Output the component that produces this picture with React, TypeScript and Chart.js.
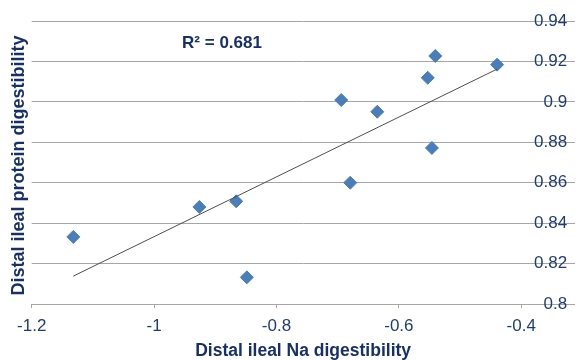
import React, { useEffect, useRef } from "react";
import { Chart, registerables } from "chart.js";

Chart.register(...registerables);

// ---- Data ----
const naDigestibility = [-0.5405, -0.4395, -0.5528, -0.6942, -0.6353, -0.546, -0.6795, -0.8658, -0.926, -1.132, -0.8484];
const proteinDigestibility = [0.9227, 0.9184, 0.9119, 0.9009, 0.8951, 0.8772, 0.86, 0.8508, 0.848, 0.8332, 0.8132];
const trendX = [-1.132, -0.4395];
const trendY = [0.8138, 0.9162];
const xTicks = [-1.2, -1, -0.8, -0.6, -0.4];
const yTicks = [0.8, 0.82, 0.84, 0.86, 0.88, 0.9, 0.92, 0.94];
const xMin = -1.2;
const xMax = -0.313;
const yMin = 0.8;
const yMax = 0.94;
const xTitle = "Distal ileal Na digestibility";
const yTitle = "Distal ileal protein digestibility";
const rSquaredLabel = "R² = 0.681";
const rSquaredAt = { x: -0.889, y: 0.9288 };

const FONT = '"Liberation Sans", Arial, sans-serif';
const TICK_COLOR = "#1F3C77";
const TITLE_COLOR = "#17306A";
const GRID_COLOR = "#a6a6a6";
const POINT_COLOR = "#4A7EBB";

const textPlugin = {
  id: "extraTexts",
  afterDraw(chart: any) {
    const ctx = chart.ctx;
    const xs = chart.scales.x;
    const ys = chart.scales.y;
    ctx.save();
    ctx.fillStyle = TITLE_COLOR;
    ctx.textAlign = "center";
    ctx.textBaseline = "middle";
    // y-axis title on the left
    ctx.save();
    ctx.font = `bold 18px ${FONT}`;
    ctx.translate(19.5, (chart.chartArea.top + chart.chartArea.bottom) / 2 + 3);
    ctx.rotate(-Math.PI / 2);
    ctx.fillText(yTitle, 0, 0);
    ctx.restore();
    // R² annotation
    ctx.font = `bold 17px ${FONT}`;
    ctx.fillText(rSquaredLabel, xs.getPixelForValue(rSquaredAt.x), ys.getPixelForValue(rSquaredAt.y));
    ctx.restore();
  },
};

export default function App() {
  const canvasRef = useRef<HTMLCanvasElement | null>(null);

  useEffect(() => {
    if (!canvasRef.current) return;
    const chart = new Chart(canvasRef.current, {
      type: "scatter",
      data: {
        datasets: [
          {
            label: "Trend",
            data: trendX.map((x, i) => ({ x, y: trendY[i] })),
            showLine: true,
            borderColor: "#4d4d4d",
            borderWidth: 1,
            pointRadius: 0,
            pointHoverRadius: 0,
          },
          {
            label: "Digestibility",
            data: naDigestibility.map((x, i) => ({ x, y: proteinDigestibility[i] })),
            pointStyle: "rectRot",
            pointRadius: 6.5,
            backgroundColor: POINT_COLOR,
            borderColor: POINT_COLOR,
            borderWidth: 1,
          },
        ],
      },
      options: {
        animation: false,
        responsive: false,
        layout: { padding: { left: 31.7, top: 21, right: 2, bottom: 0 } },
        plugins: {
          legend: { display: false },
          tooltip: { enabled: false },
        },
        scales: {
          x: {
            type: "linear",
            position: "bottom",
            min: xMin,
            max: xMax,
            afterBuildTicks: (axis: any) => {
              axis.ticks = xTicks.map((v) => ({ value: v }));
            },
            afterFit: (axis: any) => {
              axis.height = 56;
            },
            grid: { drawOnChartArea: false, drawTicks: true, tickLength: 4, color: GRID_COLOR },
            border: { display: true, color: GRID_COLOR, width: 1 },
            ticks: {
              padding: 7.8,
              color: TICK_COLOR,
              font: { family: FONT, size: 17 },
              maxRotation: 0,
              autoSkip: false,
              callback: (v: any) => String(v),
            },
            title: {
              display: true,
              text: xTitle,
              color: TITLE_COLOR,
              font: { family: FONT, size: 17.5, weight: "bold", lineHeight: 1 },
              padding: { top: 6.8, bottom: 0 },
            },
          },
          y: {
            type: "linear",
            position: "right",
            min: yMin,
            max: yMax,
            afterBuildTicks: (axis: any) => {
              axis.ticks = yTicks.map((v) => ({ value: v }));
            },
            afterFit: (axis: any) => {
              axis.width = 0;
            },
            grid: { drawTicks: false, color: GRID_COLOR },
            border: { display: false },
            ticks: {
              mirror: true,
              padding: -7.3,
              color: TICK_COLOR,
              font: { family: FONT, size: 17 },
              callback: (v: any) => String(v),
            },
          },
        },
      },
      plugins: [textPlugin],
    } as any);
    return () => chart.destroy();
  }, []);

  return (
    <div style={{ position: "absolute", left: 0, top: 0, width: 582, height: 360, background: "#fff" }}>
      <canvas ref={canvasRef} width={582} height={360} style={{ display: "block" }} />
    </div>
  );
}
